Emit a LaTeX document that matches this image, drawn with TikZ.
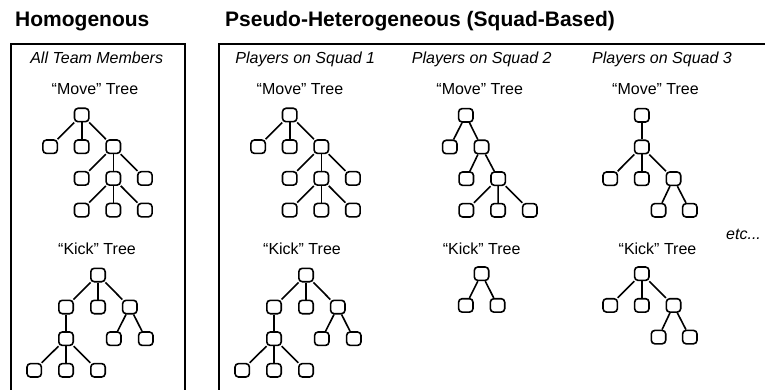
\documentclass[tikz,border=0pt]{standalone}
\usepackage{fontspec}
\setmainfont{Liberation Sans}
\usetikzlibrary{positioning,calc}

\tikzset{
    box/.style={draw, rectangle, rounded corners=3.5pt, minimum width=14.4pt, minimum height=13.4pt, inner sep=0pt, line width=1.6pt},
    link/.style={line width=1.6pt},
    panel/.style={line width=1.5pt},
    title/.style={inner sep=0pt, anchor=base west, font=\fontsize{21}{24}\selectfont\bfseries},
    squad/.style={inner sep=0pt, anchor=base, font=\fontsize{16}{19}\selectfont\itshape},
    treename/.style={inner sep=0pt, anchor=base, font=\fontsize{16}{19}\selectfont}
}

\begin{document}
\begin{tikzpicture}[x=1pt, y=-1pt]
        \useasboundingbox (0,0) rectangle (765,390);

        % Titles
        \node[title] (T_HOMO) at (15,27) {Homogenous};
        \node[title] (T_PSEUDO) at (225,27) {Pseudo-Heterogeneous (Squad-Based)};

        % Panels
        \draw[panel] (11,391) -- (11,44) -- (185,44) -- (185,391);
        \draw[panel] (219,391) -- (219,44) -- (766,44);

        % Column headers
        \node[squad] (H_HEAD) at (96.7,63.5) {All Team Members};
        \node[squad] (S1_HEAD) at (305.3,63.5) {Players on Squad 1};
        \node[squad] (S2_HEAD) at (481.7,63.5) {Players on Squad 2};
        \node[squad] (S3_HEAD) at (662,63.5) {Players on Squad 3};

        % Tree names
        \foreach \n/\x in {H/95, S1/300, S2/479.7, S3/655.5} {
            \node[treename] (\n_MOVE) at (\x,94.5) {“Move” Tree};
            \node[treename] (\n_KICK) at (\x+2,254) {“Kick” Tree};
        }

        \node[squad, anchor=base west] (ETC) at (726,239) {etc...};







        % Draw the "Move" and "Kick" trees of the homogenous team and of squad 1
        \foreach \c/\dx in {h/0, a/208} {
            \coordinate (\c-M) at (81.7+\dx,115);
            \coordinate (\c-K) at (98+\dx,275);

            % "Move" tree
            \node[box] (\c-m0) at (\c-M) {};
            \node[box] (\c-m1) at ($(\c-M) + (-31.6,31.7)$) {};
            \node[box] (\c-m2) at ($(\c-M) + (0,31.7)$) {};
            \node[box] (\c-m3) at ($(\c-M) + (31.6,31.7)$) {};
            \node[box] (\c-m4) at ($(\c-M) + (0,63.4)$) {};
            \node[box] (\c-m5) at ($(\c-M) + (31.6,63.4)$) {};
            \node[box] (\c-m6) at ($(\c-M) + (63.2,63.4)$) {};
            \node[box] (\c-m7) at ($(\c-M) + (0,95.1)$) {};
            \node[box] (\c-m8) at ($(\c-M) + (31.6,95.1)$) {};
            \node[box] (\c-m9) at ($(\c-M) + (63.2,95.1)$) {};
            \foreach \i/\j in {m0/m1, m0/m2, m0/m3, m3/m4, m3/m5, m3/m6, m5/m7, m5/m8, m5/m9} {
                \draw[link] (\c-\i) -- (\c-\j);
            }

            % "Kick" tree
            \node[box] (\c-k0) at (\c-K) {};
            \node[box] (\c-k1) at ($(\c-K) + (-32,32)$) {};
            \node[box] (\c-k2) at ($(\c-K) + (0,32)$) {};
            \node[box] (\c-k3) at ($(\c-K) + (31.8,32)$) {};
            \node[box] (\c-k4) at ($(\c-K) + (-32,63.7)$) {};
            \node[box] (\c-k5) at ($(\c-K) + (15.8,63.7)$) {};
            \node[box] (\c-k6) at ($(\c-K) + (47.8,63.7)$) {};
            \node[box] (\c-k7) at ($(\c-K) + (-63.8,95.3)$) {};
            \node[box] (\c-k8) at ($(\c-K) + (-32,95.3)$) {};
            \node[box] (\c-k9) at ($(\c-K) + (0,95.3)$) {};
            \foreach \i/\j in {k0/k1, k0/k2, k0/k3, k1/k4, k3/k5, k3/k6, k4/k7, k4/k8, k4/k9} {
                \draw[link] (\c-\i) -- (\c-\j);
            }
        }







        % Draw the trees of squad 2
        \coordinate (b-M) at (465.8,115.3);
        \coordinate (b-K) at (481.5,273.7);

        \node[box] (b-m0) at (b-M) {};
        \node[box] (b-m1) at ($(b-M) + (-16,31.7)$) {};
        \node[box] (b-m2) at ($(b-M) + (15.7,31.7)$) {};
        \node[box] (b-m3) at ($(b-M) + (0.5,63.4)$) {};
        \node[box] (b-m4) at ($(b-M) + (32.4,63.4)$) {};
        \node[box] (b-m5) at ($(b-M) + (0.5,95)$) {};
        \node[box] (b-m6) at ($(b-M) + (32.2,95)$) {};
        \node[box] (b-m7) at ($(b-M) + (64,95)$) {};
        \foreach \i/\j in {m0/m1, m0/m2, m2/m3, m2/m4, m4/m5, m4/m6, m4/m7} {
            \draw[link] (b-\i) -- (b-\j);
        }

        \node[box] (b-k0) at (b-K) {};
        \node[box] (b-k1) at ($(b-K) + (-15.7,31.7)$) {};
        \node[box] (b-k2) at ($(b-K) + (16,31.7)$) {};
        \foreach \j in {k1, k2} {
            \draw[link] (b-k0) -- (b-\j);
        }







        % Draw the trees of squad 3
        \coordinate (c-M) at (641.8,115.3);
        \coordinate (c-K) at (641.8,273.7);

        \node[box] (c-m0) at (c-M) {};
        \node[box] (c-m1) at ($(c-M) + (0,31.7)$) {};
        \node[box] (c-m2) at ($(c-M) + (-31.6,63.4)$) {};
        \node[box] (c-m3) at ($(c-M) + (0,63.4)$) {};
        \node[box] (c-m4) at ($(c-M) + (31.7,63.4)$) {};
        \node[box] (c-m5) at ($(c-M) + (16.7,95)$) {};
        \node[box] (c-m6) at ($(c-M) + (48,95)$) {};
        \foreach \i/\j in {m0/m1, m1/m2, m1/m3, m1/m4, m4/m5, m4/m6} {
            \draw[link] (c-\i) -- (c-\j);
        }

        \node[box] (c-k0) at (c-K) {};
        \node[box] (c-k1) at ($(c-K) + (-31.6,31.7)$) {};
        \node[box] (c-k2) at ($(c-K) + (0,31.7)$) {};
        \node[box] (c-k3) at ($(c-K) + (31.7,31.7)$) {};
        \node[box] (c-k4) at ($(c-K) + (16.7,63.4)$) {};
        \node[box] (c-k5) at ($(c-K) + (48,63.4)$) {};
        \foreach \i/\j in {k0/k1, k0/k2, k0/k3, k3/k4, k3/k5} {
            \draw[link] (c-\i) -- (c-\j);
        }

    \end{tikzpicture}
\end{document}
